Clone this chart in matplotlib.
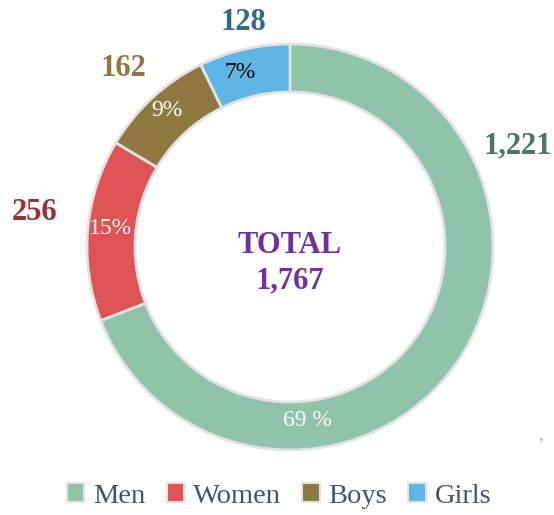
import matplotlib
matplotlib.use("Agg")
import matplotlib.pyplot as plt
from matplotlib.patches import Patch

plt.rcParams["font.family"] = ["Liberation Serif", "DejaVu Serif"]

categories = ["Men", "Women", "Boys", "Girls"]
values = [1221, 256, 162, 128]
pct_labels = ["69 %", "15%", "9%", "7%"]
value_labels = ["1,221", "256", "162", "128"]
total_label = "TOTAL\n1,767"

colors = ["#8fc4a9", "#de5455", "#8f783f", "#5fb6e4"]
value_colors = ["#4b7862", "#9b3236", "#8f783f", "#2f6b87"]
pct_colors = ["white", "white", "white", "black"]

W, H = 554, 515
fig = plt.figure(figsize=(W / 100, H / 100), dpi=100)
ax = fig.add_axes([0, 0, 1, 1])

cx, cy, R = 290, H - 247, 203
wedges, _ = ax.pie(values, colors=colors, startangle=90, counterclock=False,
                   center=(cx, cy), radius=R, frame=True,
                   wedgeprops=dict(width=48, edgecolor="#e3e3e3", linewidth=2))
ax.set_xlim(0, W)
ax.set_ylim(0, H)
ax.set_aspect("equal")
ax.axis("off")

def px(x, y):
    return x, H - y

value_pos = [(518, 146), (35, 212), (123, 68), (243, 22)]
pct_pos = [(307, 420), (110, 228), (167, 110), (240, 73)]

for lab, c, p in zip(value_labels, value_colors, value_pos):
    ax.text(*px(*p), lab, color=c, fontsize=22, fontweight="bold",
            ha="center", va="center")
for lab, c, p in zip(pct_labels, pct_colors, pct_pos):
    ax.text(*px(*p), lab, color=c, fontsize=17, ha="center", va="center")

ax.text(*px(290, 263), total_label, color="#7030a0", fontsize=22, fontweight="bold",
        ha="center", va="center", linespacing=1.3)
ax.text(*px(541, 435), ",", color="#8fc4a9", fontsize=14, ha="center", va="center")

handles = [Patch(facecolor=c, edgecolor="#e3e3e3", linewidth=1.5) for c in colors]
leg = fig.legend(handles, categories, loc="center", bbox_to_anchor=(279 / W, 1 - 496 / H),
                 ncol=4, frameon=False, handlelength=0.62, handleheight=0.62,
                 handletextpad=0.3, columnspacing=0.75,
                 prop=dict(family="Liberation Serif", size=20.5))
for t in leg.get_texts():
    t.set_color("#44546a")

fig.savefig("out.png", dpi=100)
